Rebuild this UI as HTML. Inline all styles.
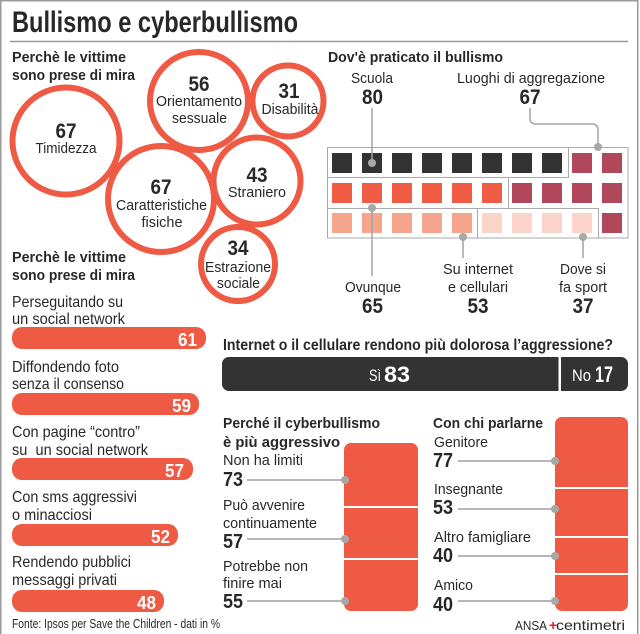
<!DOCTYPE html>
<html><head><meta charset="utf-8"><style>
html,body{margin:0;padding:0;background:#fff;}
svg{display:block;}
text{font-family:"Liberation Sans",Arial,sans-serif;fill:#282828;}
.b{font-weight:bold;}
.w{fill:#fff;}
</style></head><body>
<svg width="640" height="634" viewBox="0 0 640 634" xmlns="http://www.w3.org/2000/svg">
<rect x="0" y="0" width="640" height="634" fill="#fff"/>
<rect x="0.75" y="0.75" width="637" height="660" fill="none" stroke="#9a9a9a" stroke-width="1.5"/>

<!-- Title -->
<text x="12" y="32" class="b" font-size="30" textLength="286" lengthAdjust="spacingAndGlyphs">Bullismo e cyberbullismo</text>
<line x1="10" y1="41.5" x2="628" y2="41.5" stroke="#9a9a9a" stroke-width="1.5"/>

<!-- Left header 1 -->
<text x="12" y="62" class="b" font-size="15" textLength="114" lengthAdjust="spacingAndGlyphs">Perchè le vittime</text>
<text x="12" y="80" class="b" font-size="15" textLength="123" lengthAdjust="spacingAndGlyphs">sono prese di mira</text>

<!-- Circles -->
<g fill="none" stroke="#ee5a44" stroke-width="6">
<circle cx="66" cy="141" r="53.5"/>
<circle cx="199" cy="101" r="49"/>
<circle cx="288" cy="101" r="35.5"/>
<circle cx="161" cy="199" r="53"/>
<circle cx="257" cy="181" r="43.5"/>
<circle cx="238" cy="264" r="37"/>
</g>
<g text-anchor="middle">
<text x="66" y="138" class="b" font-size="21" textLength="21" lengthAdjust="spacingAndGlyphs">67</text>
<text x="66" y="153" font-size="15" textLength="61" lengthAdjust="spacingAndGlyphs">Timidezza</text>
<text x="199" y="91" class="b" font-size="21" textLength="21" lengthAdjust="spacingAndGlyphs">56</text>
<text x="199" y="106" font-size="15" textLength="86" lengthAdjust="spacingAndGlyphs">Orientamento</text>
<text x="199.5" y="123" font-size="15" textLength="55" lengthAdjust="spacingAndGlyphs">sessuale</text>
<text x="289" y="98" class="b" font-size="21" textLength="21" lengthAdjust="spacingAndGlyphs">31</text>
<text x="290" y="114" font-size="15" textLength="57" lengthAdjust="spacingAndGlyphs">Disabilità</text>
<text x="161" y="194" class="b" font-size="21" textLength="21" lengthAdjust="spacingAndGlyphs">67</text>
<text x="161.5" y="210" font-size="15" textLength="91" lengthAdjust="spacingAndGlyphs">Caratteristiche</text>
<text x="162" y="227" font-size="15" textLength="41" lengthAdjust="spacingAndGlyphs">fisiche</text>
<text x="257" y="182" class="b" font-size="21" textLength="21" lengthAdjust="spacingAndGlyphs">43</text>
<text x="257" y="197" font-size="15" textLength="58" lengthAdjust="spacingAndGlyphs">Straniero</text>
<text x="238" y="255" class="b" font-size="21" textLength="21" lengthAdjust="spacingAndGlyphs">34</text>
<text x="238" y="272" font-size="15" textLength="66" lengthAdjust="spacingAndGlyphs">Estrazione</text>
<text x="238.5" y="288" font-size="15" textLength="43" lengthAdjust="spacingAndGlyphs">sociale</text>
</g>

<!-- Left header 2 -->
<text x="12" y="262" class="b" font-size="15" textLength="114" lengthAdjust="spacingAndGlyphs">Perchè le vittime</text>
<text x="12" y="280" class="b" font-size="15" textLength="123" lengthAdjust="spacingAndGlyphs">sono prese di mira</text>

<!-- Left bars -->
<g font-size="16">
<text x="12" y="307" textLength="111" lengthAdjust="spacingAndGlyphs">Perseguitando su</text>
<text x="12" y="324" textLength="113" lengthAdjust="spacingAndGlyphs">un social network</text>
<text x="12" y="372" textLength="107" lengthAdjust="spacingAndGlyphs">Diffondendo foto</text>
<text x="12" y="389" textLength="112" lengthAdjust="spacingAndGlyphs">senza il consenso</text>
<text x="12" y="437" textLength="128" lengthAdjust="spacingAndGlyphs">Con pagine “contro”</text>
<text x="12" y="455" textLength="136" lengthAdjust="spacingAndGlyphs" xml:space="preserve">su  un social network</text>
<text x="12" y="502" textLength="125" lengthAdjust="spacingAndGlyphs">Con sms aggressivi</text>
<text x="12" y="520" textLength="80" lengthAdjust="spacingAndGlyphs">o minacciosi</text>
<text x="12" y="567" textLength="119" lengthAdjust="spacingAndGlyphs">Rendendo pubblici</text>
<text x="12" y="585" textLength="105" lengthAdjust="spacingAndGlyphs">messaggi privati</text>
</g>
<g fill="#ee5a44">
<rect x="12" y="327" width="194" height="22" rx="10"/>
<rect x="12" y="393" width="187" height="22" rx="10"/>
<rect x="12" y="458" width="181" height="22" rx="10"/>
<rect x="12" y="524" width="166" height="22" rx="10"/>
<rect x="12" y="590" width="152" height="22" rx="10"/>
</g>
<g text-anchor="end" font-size="18">
<text x="197" y="346" class="b w" textLength="19" lengthAdjust="spacingAndGlyphs">61</text>
<text x="191" y="412" class="b w" textLength="19" lengthAdjust="spacingAndGlyphs">59</text>
<text x="184" y="477" class="b w" textLength="19" lengthAdjust="spacingAndGlyphs">57</text>
<text x="170" y="543" class="b w" textLength="19" lengthAdjust="spacingAndGlyphs">52</text>
<text x="156" y="609" class="b w" textLength="19" lengthAdjust="spacingAndGlyphs">48</text>
</g>
<text x="12" y="628" font-size="13" textLength="208" lengthAdjust="spacingAndGlyphs">Fonte: Ipsos per Save the Children - dati in %</text>

<!-- Dov'è praticato -->
<text x="328" y="62" class="b" font-size="15" textLength="175" lengthAdjust="spacingAndGlyphs">Dov'è praticato il bullismo</text>
<text x="351" y="83" font-size="15" textLength="42" lengthAdjust="spacingAndGlyphs">Scuola</text>
<text x="372.5" y="104" class="b" font-size="21" text-anchor="middle" textLength="21" lengthAdjust="spacingAndGlyphs">80</text>
<text x="457" y="83" font-size="15" textLength="148" lengthAdjust="spacingAndGlyphs">Luoghi di aggregazione</text>
<text x="530" y="104" class="b" font-size="21" text-anchor="middle" textLength="21" lengthAdjust="spacingAndGlyphs">67</text>

<!-- grid squares -->
<g>
<rect x="332" y="153" width="20" height="20" fill="#333"/>
<rect x="362" y="153" width="20" height="20" fill="#333"/>
<rect x="392" y="153" width="20" height="20" fill="#333"/>
<rect x="422" y="153" width="20" height="20" fill="#333"/>
<rect x="452" y="153" width="20" height="20" fill="#333"/>
<rect x="482" y="153" width="20" height="20" fill="#333"/>
<rect x="512" y="153" width="20" height="20" fill="#333"/>
<rect x="542" y="153" width="20" height="20" fill="#333"/>
<rect x="572" y="153" width="20" height="20" fill="#b0475a"/>
<rect x="602" y="153" width="20" height="20" fill="#b0475a"/>

<rect x="332" y="183" width="20" height="20" fill="#f05b43"/>
<rect x="362" y="183" width="20" height="20" fill="#f05b43"/>
<rect x="392" y="183" width="20" height="20" fill="#f05b43"/>
<rect x="422" y="183" width="20" height="20" fill="#f05b43"/>
<rect x="452" y="183" width="20" height="20" fill="#f05b43"/>
<rect x="482" y="183" width="20" height="20" fill="#f05b43"/>
<rect x="512" y="183" width="20" height="20" fill="#b0475a"/>
<rect x="542" y="183" width="20" height="20" fill="#b0475a"/>
<rect x="572" y="183" width="20" height="20" fill="#b0475a"/>
<rect x="602" y="183" width="20" height="20" fill="#b0475a"/>

<rect x="332" y="213" width="20" height="20" fill="#f6a58d"/>
<rect x="362" y="213" width="20" height="20" fill="#f6a58d"/>
<rect x="392" y="213" width="20" height="20" fill="#f6a58d"/>
<rect x="422" y="213" width="20" height="20" fill="#f6a58d"/>
<rect x="452" y="213" width="20" height="20" fill="#f6a58d"/>
<rect x="482" y="213" width="20" height="20" fill="#fcd3c8"/>
<rect x="512" y="213" width="20" height="20" fill="#fcd3c8"/>
<rect x="542" y="213" width="20" height="20" fill="#fcd3c8"/>
<rect x="572" y="213" width="20" height="20" fill="#fcd3c8"/>
<rect x="602" y="213" width="20" height="20" fill="#b0475a"/>
</g>
<g fill="none" stroke="#aaaaaa" stroke-width="1">
<rect x="327.5" y="147.5" width="300.5" height="90.5"/>
<polyline points="568.5,147.5 568.5,177.5 327.5,177.5"/>
<line x1="508.5" y1="177.5" x2="508.5" y2="208"/>
<polyline points="327.5,208.5 598.5,208.5 598.5,238"/>
<line x1="477.5" y1="208.5" x2="477.5" y2="238"/>
</g>
<!-- connectors -->
<g fill="none" stroke="#a3a3a3" stroke-width="1.5">
<line x1="372" y1="108" x2="372" y2="163"/>
<path d="M530,108 V118 Q530,124 536,124 H592 Q598,124 598,130 V147"/>
<line x1="372" y1="208" x2="372" y2="276"/>
<line x1="463" y1="237" x2="463" y2="258"/>
<line x1="583" y1="237" x2="583" y2="258"/>
</g>
<g fill="#a8a8a8">
<circle cx="372" cy="163" r="4"/>
<circle cx="598" cy="147" r="4"/>
<circle cx="372" cy="208" r="4"/>
<circle cx="463" cy="237" r="4"/>
<circle cx="583" cy="237" r="4"/>
</g>
<text x="345" y="292" font-size="15" textLength="56" lengthAdjust="spacingAndGlyphs">Ovunque</text>
<text x="372.5" y="313" class="b" font-size="21" text-anchor="middle" textLength="21" lengthAdjust="spacingAndGlyphs">65</text>
<text x="443" y="274" font-size="15" textLength="70" lengthAdjust="spacingAndGlyphs">Su internet</text>
<text x="448" y="292" font-size="15" textLength="60" lengthAdjust="spacingAndGlyphs">e cellulari</text>
<text x="478" y="313" class="b" font-size="21" text-anchor="middle" textLength="21" lengthAdjust="spacingAndGlyphs">53</text>
<text x="560" y="274" font-size="15" textLength="46" lengthAdjust="spacingAndGlyphs">Dove si</text>
<text x="559" y="292" font-size="15" textLength="48" lengthAdjust="spacingAndGlyphs">fa sport</text>
<text x="583" y="313" class="b" font-size="21" text-anchor="middle" textLength="21" lengthAdjust="spacingAndGlyphs">37</text>

<!-- Question bar -->
<text x="223" y="350" class="b" font-size="16" textLength="390" lengthAdjust="spacingAndGlyphs">Internet o il cellulare rendono più dolorosa l’aggressione?</text>
<rect x="222" y="357" width="406" height="34" rx="7" fill="#333333"/>
<rect x="558.5" y="357" width="2.5" height="34" fill="#fff"/>
<text x="369" y="381" class="w" font-size="17" textLength="12" lengthAdjust="spacingAndGlyphs">Sì</text>
<text x="384" y="382" class="b w" font-size="22" textLength="26" lengthAdjust="spacingAndGlyphs">83</text>
<text x="572" y="381" class="w" font-size="17" textLength="19" lengthAdjust="spacingAndGlyphs">No</text>
<text x="595" y="382" class="b w" font-size="22" textLength="18" lengthAdjust="spacingAndGlyphs">17</text>

<!-- Perché il cyberbullismo -->
<text x="223" y="428" class="b" font-size="15" textLength="157" lengthAdjust="spacingAndGlyphs">Perché il cyberbullismo</text>
<text x="223" y="447" class="b" font-size="15" textLength="117" lengthAdjust="spacingAndGlyphs">è più aggressivo</text>
<rect x="344" y="443" width="74" height="168" rx="7" fill="#ee5a44"/>
<rect x="344" y="506" width="74" height="2" fill="#fff"/>
<rect x="344" y="558" width="74" height="2" fill="#fff"/>
<g font-size="15">
<text x="223" y="465" textLength="80" lengthAdjust="spacingAndGlyphs">Non ha limiti</text>
<text x="223" y="510" textLength="82" lengthAdjust="spacingAndGlyphs">Può avvenire</text>
<text x="223" y="528" textLength="94" lengthAdjust="spacingAndGlyphs">continuamente</text>
<text x="223" y="571" textLength="85" lengthAdjust="spacingAndGlyphs">Potrebbe non</text>
<text x="223" y="588" textLength="59" lengthAdjust="spacingAndGlyphs">finire mai</text>
</g>
<g font-size="20">
<text x="223" y="486" class="b" textLength="20" lengthAdjust="spacingAndGlyphs">73</text>
<text x="223" y="548" class="b" textLength="20" lengthAdjust="spacingAndGlyphs">57</text>
<text x="223" y="608" class="b" textLength="20" lengthAdjust="spacingAndGlyphs">55</text>
</g>
<g stroke="#9e9e9e" stroke-width="1.5">
<line x1="247" y1="480" x2="345" y2="480"/>
<line x1="247" y1="539" x2="345" y2="539"/>
<line x1="247" y1="601" x2="345" y2="601"/>
</g>
<g fill="#a8a8a8">
<circle cx="345" cy="480" r="4"/>
<circle cx="345" cy="539" r="4"/>
<circle cx="345" cy="601" r="4"/>
</g>

<!-- Con chi parlarne -->
<text x="433" y="428" class="b" font-size="15" textLength="110" lengthAdjust="spacingAndGlyphs">Con chi parlarne</text>
<rect x="555" y="417" width="73" height="194" rx="7" fill="#ee5a44"/>
<rect x="555" y="487" width="73" height="2" fill="#fff"/>
<rect x="555" y="536" width="73" height="2" fill="#fff"/>
<rect x="555" y="573" width="73" height="2" fill="#fff"/>
<g font-size="15">
<text x="434" y="447" textLength="54" lengthAdjust="spacingAndGlyphs">Genitore</text>
<text x="434" y="494" textLength="69" lengthAdjust="spacingAndGlyphs">Insegnante</text>
<text x="434" y="542" textLength="97" lengthAdjust="spacingAndGlyphs">Altro famigliare</text>
<text x="434" y="590" textLength="39" lengthAdjust="spacingAndGlyphs">Amico</text>
</g>
<g font-size="20">
<text x="433" y="467" class="b" textLength="20" lengthAdjust="spacingAndGlyphs">77</text>
<text x="433" y="514" class="b" textLength="20" lengthAdjust="spacingAndGlyphs">53</text>
<text x="433" y="562" class="b" textLength="20" lengthAdjust="spacingAndGlyphs">40</text>
<text x="433" y="611" class="b" textLength="20" lengthAdjust="spacingAndGlyphs">40</text>
</g>
<g stroke="#9e9e9e" stroke-width="1.5">
<line x1="458" y1="461" x2="555" y2="461"/>
<line x1="458" y1="509" x2="555" y2="509"/>
<line x1="458" y1="556" x2="555" y2="556"/>
<line x1="458" y1="601" x2="555" y2="601"/>
</g>
<g fill="#a8a8a8">
<circle cx="555" cy="461" r="4"/>
<circle cx="555" cy="509" r="4"/>
<circle cx="555" cy="556" r="4"/>
<circle cx="555" cy="601" r="4"/>
</g>

<!-- Logo -->
<text x="515" y="630" font-size="13" textLength="32" lengthAdjust="spacingAndGlyphs">ANSA</text>
<text x="549" y="630" font-size="14" class="b" style="fill:#e0202a">+</text>
<text x="556" y="630" font-size="14" textLength="69" lengthAdjust="spacingAndGlyphs">centimetri</text>
</svg>
</body></html>
